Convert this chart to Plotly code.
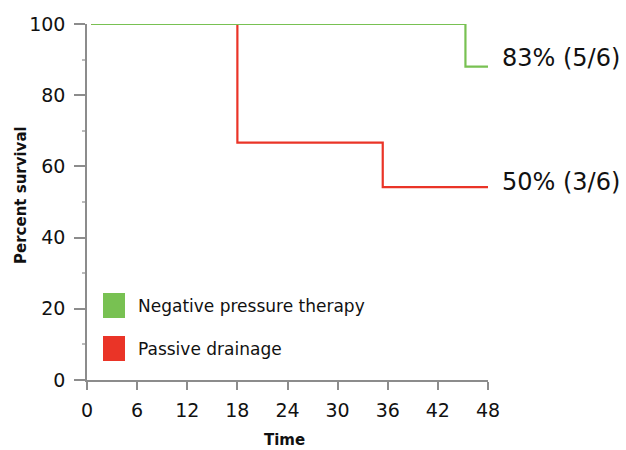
import plotly.graph_objects as go

# Data
npt_time = [0.5, 45.3, 45.3, 48]
npt_surv = [100, 100, 88, 88]
pd_time = [0.5, 18, 18, 35.4, 35.4, 48]
pd_surv = [100, 100, 66.7, 66.7, 54.2, 54.2]
series_names = ["Negative pressure therapy", "Passive drainage"]
end_labels = ["83% (5/6)", "50% (3/6)"]
x_ticks = [0, 6, 12, 18, 24, 30, 36, 42, 48]
y_ticks = [0, 20, 40, 60, 80, 100]
x_title = "Time"
y_title = "Percent survival"

GREEN = "#78C152"
RED = "#EA3427"
FONT = "DejaVu Sans"
H, W = 450, 626
L, R, T, B = 87, 138, 24, 70
PW, PH = W - L - R, H - T - B

fig = go.Figure()
fig.add_trace(go.Scatter(x=pd_time, y=pd_surv, mode="lines",
                         line=dict(color=RED, width=2.2),
                         showlegend=False, hoverinfo="skip"))
fig.add_trace(go.Scatter(x=npt_time, y=npt_surv, mode="lines",
                         line=dict(color=GREEN, width=2.2),
                         showlegend=False, hoverinfo="skip"))

# End labels
fig.add_annotation(x=npt_time[-1], y=npt_surv[-1] + 2.5, text=end_labels[0], showarrow=False,
                   xanchor="left", xshift=12, font=dict(family=FONT, size=24, color="#111"))
fig.add_annotation(x=pd_time[-1], y=pd_surv[-1] + 1.5, text=end_labels[1], showarrow=False,
                   xanchor="left", xshift=12, font=dict(family=FONT, size=24, color="#111"))

# Legend (squares + text)
colors = [GREEN, RED]
sq_y = [(293, 318), (336, 361)]
for name, c, (y0, y1) in zip(series_names, colors, sq_y):
    fig.add_shape(type="rect", xref="paper", yref="paper",
                  x0=(103 - L) / PW, x1=(125 - L) / PW,
                  y0=(H - B - y1) / PH, y1=(H - B - y0) / PH,
                  fillcolor=c, line=dict(width=0))
    fig.add_annotation(xref="paper", yref="paper", x=(136 - L) / PW,
                       y=(H - B - (y0 + y1) / 2) / PH, text=name, showarrow=False,
                       xanchor="left", yanchor="middle",
                       font=dict(family=FONT, size=17, color="#111"))

# Axis titles
fig.add_annotation(xref="paper", yref="paper", x=(284 - L) / PW, y=(H - B - 440) / PH,
                   text="<b>" + x_title + "</b>", showarrow=False, xanchor="center", yanchor="middle",
                   font=dict(family=FONT, size=15, color="#111"))
fig.add_annotation(xref="paper", yref="paper", x=(21 - L) / PW, y=(H - B - 195) / PH,
                   text="<b>" + y_title + "</b>", showarrow=False, xanchor="center", yanchor="middle",
                   textangle=-90, font=dict(family=FONT, size=15, color="#111"))

axis_common = dict(showline=True, linecolor="#8c8c8c", linewidth=1.5,
                   ticks="outside", tickcolor="#8c8c8c", tickwidth=1.5,
                   showgrid=False, zeroline=False, automargin=False,
                   tickfont=dict(family=FONT, size=19, color="#111"))

fig.update_xaxes(range=[0, 48], tickvals=x_ticks, ticklen=8, ticklabelstandoff=4,
                 **axis_common)
fig.update_yaxes(range=[0, 100], tickvals=y_ticks, ticklen=11, ticklabelstandoff=5,
                 minor=dict(tickvals=[10, 30, 50, 70, 90], ticklen=3, tickcolor="#bbbbbb", ticks="outside"),
                 **axis_common)

fig.update_layout(width=W, height=H, margin=dict(l=L, r=R, t=T, b=B),
                  plot_bgcolor="white", paper_bgcolor="white", showlegend=False)

fig.write_html("out.html")
